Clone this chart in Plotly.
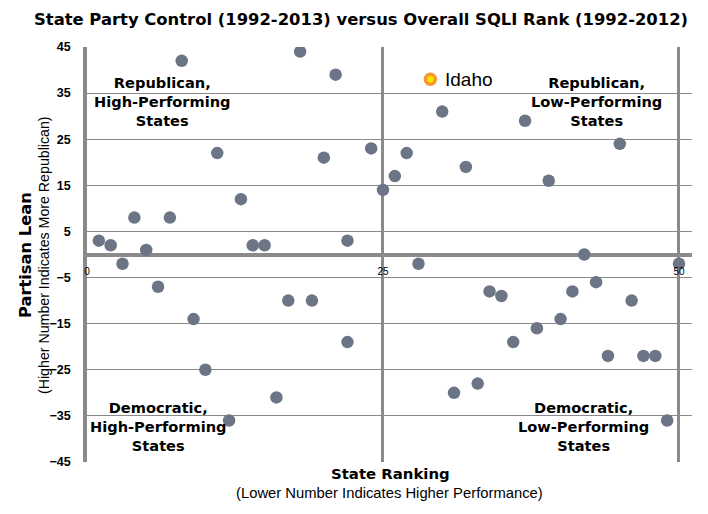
import plotly.graph_objects as go

# State ranking (x) and partisan lean (y)
ranks = [1, 2, 3, 4, 5, 6, 7, 8, 9, 10, 11, 12, 13, 14, 15, 16, 17, 18, 19, 20,
         21, 22, 22, 24, 25, 26, 27, 28, 30, 31, 32, 33, 34, 35, 36, 37, 38, 39,
         40, 41, 42, 43, 44, 45, 46, 47, 48, 49, 50]
lean = [3, 2, -2, 8, 1, -7, 8, 42, -14, -25, 22, -36, 12, 2, 2, -31, -10, 44, -10, 21,
        39, 3, -19, 23, 14, 17, 22, -2, 31, -30, 19, -28, -8, -9, -19, 29, -16, 16,
        -14, -8, 0, -6, -22, 24, -10, -22, -22, -36, -2]

idaho_rank = [29]
idaho_lean = [38]
idaho_label = "Idaho"

x_ticks = [0, 25, 50]
y_ticks = [-45, -35, -25, -15, -5, 5, 15, 25, 35, 45]

title = "State Party Control (1992-2013) versus Overall SQLI Rank (1992-2012)"
x_title = "State Ranking"
x_subtitle = "(Lower Number Indicates Higher Performance)"
y_title = "Partisan Lean"
y_subtitle = "(Higher Number Indicates More Republican)"
quadrants = [
    ("Republican,<br>High-Performing<br>States", 6.4, 33.2),
    ("Republican,<br>Low-Performing<br>States", 43.0, 33.1),
    ("Democratic,<br>High-Performing<br>States", 6.0, -37.3),
    ("Democratic,<br>Low-Performing<br>States", 41.9, -37.3),
]

GRID = "#8a8a8a"
DOT = "#6c7585"
FONT = "Liberation Sans"
HEAVY = "DejaVu Sans"

W, H = 708, 514
l, r, t, b = 87, 16, 47, 52
pw, ph = W - l - r, H - t - b


def px2paper(px, py):
    return (px - l) / pw, (H - b - py) / ph


fig = go.Figure()
fig.add_trace(go.Scatter(
    x=ranks, y=lean, mode="markers",
    marker=dict(size=12.5, color=DOT, line=dict(width=0)),
    showlegend=False, hoverinfo="skip",
))
fig.add_trace(go.Scatter(
    x=idaho_rank, y=idaho_lean, mode="markers",
    marker=dict(size=10, color="#ffe600", line=dict(width=3.5, color="#f29a2e")),
    showlegend=False, hoverinfo="skip",
))
fig.add_annotation(
    x=idaho_rank[0], y=idaho_lean[0], xref="x", yref="y", text=idaho_label,
    showarrow=False, xanchor="left", yanchor="middle", xshift=13,
    font=dict(family=FONT, size=19, color="#000000"),
)

for txt, ax, ay in quadrants:
    fig.add_annotation(
        x=ax, y=ay, xref="x", yref="y", text=txt, showarrow=False,
        font=dict(family=HEAVY, size=14.6, color="#000000", weight="bold"),
        align="center",
    )

fig.update_layout(
    width=W, height=H,
    margin=dict(l=l, r=r, t=t, b=b),
    paper_bgcolor="white", plot_bgcolor="white",
    font=dict(family=FONT, color="#000000"),
    showlegend=False,
    xaxis=dict(
        range=[0, 51.1], tickvals=x_ticks, ticktext=[str(v) for v in x_ticks],
        anchor="free", position=0.5, automargin=False,
        showgrid=True, gridcolor=GRID, gridwidth=2.5,
        zeroline=False, showline=False,
        ticks="outside", ticklen=7, tickcolor="rgba(0,0,0,0)",
        tickfont=dict(family=FONT, size=10, color="#000000"),
        fixedrange=True,
    ),
    yaxis=dict(
        range=[-45, 45], tickvals=y_ticks, automargin=False,
        showgrid=True, gridcolor=GRID, gridwidth=1.3,
        zeroline=True, zerolinecolor=GRID, zerolinewidth=3.5,
        showline=True, linecolor=GRID, linewidth=3.5,
        ticks="outside", ticklen=10, tickcolor="rgba(0,0,0,0)",
        tickfont=dict(family=FONT, size=12.5, color="#000000", weight="bold"),
        fixedrange=True,
    ),
)

tx, ty = px2paper(361, 20)
fig.add_annotation(text=title, x=tx, y=ty, xref="paper", yref="paper", showarrow=False,
                   xanchor="center", yanchor="middle",
                   font=dict(family=HEAVY, size=16.4, color="#000000", weight="bold"))
ax1, ay1 = px2paper(390, 474)
fig.add_annotation(text=x_title, x=ax1, y=ay1, xref="paper", yref="paper",
                   showarrow=False, xanchor="center", yanchor="middle",
                   font=dict(family=HEAVY, size=14.9, color="#000000", weight="bold"))
ax2, ay2 = px2paper(389, 493)
fig.add_annotation(text=x_subtitle, x=ax2, y=ay2,
                   xref="paper", yref="paper", showarrow=False,
                   xanchor="center", yanchor="middle",
                   font=dict(family=FONT, size=14.8, color="#000000"))
ax3, ay3 = px2paper(26, 255)
fig.add_annotation(text=y_title, x=ax3, y=ay3, xref="paper", yref="paper",
                   showarrow=False, textangle=-90, xanchor="center", yanchor="middle",
                   font=dict(family=HEAVY, size=16.3, color="#000000", weight="bold"))
ax4, ay4 = px2paper(44, 255)
fig.add_annotation(text=y_subtitle, x=ax4, y=ay4,
                   xref="paper", yref="paper", showarrow=False, textangle=-90,
                   xanchor="center", yanchor="middle",
                   font=dict(family=FONT, size=14.2, color="#000000"))

fig.write_html("out.html", config={"displayModeBar": False},
               post_script="document.body.style.margin='0';")
